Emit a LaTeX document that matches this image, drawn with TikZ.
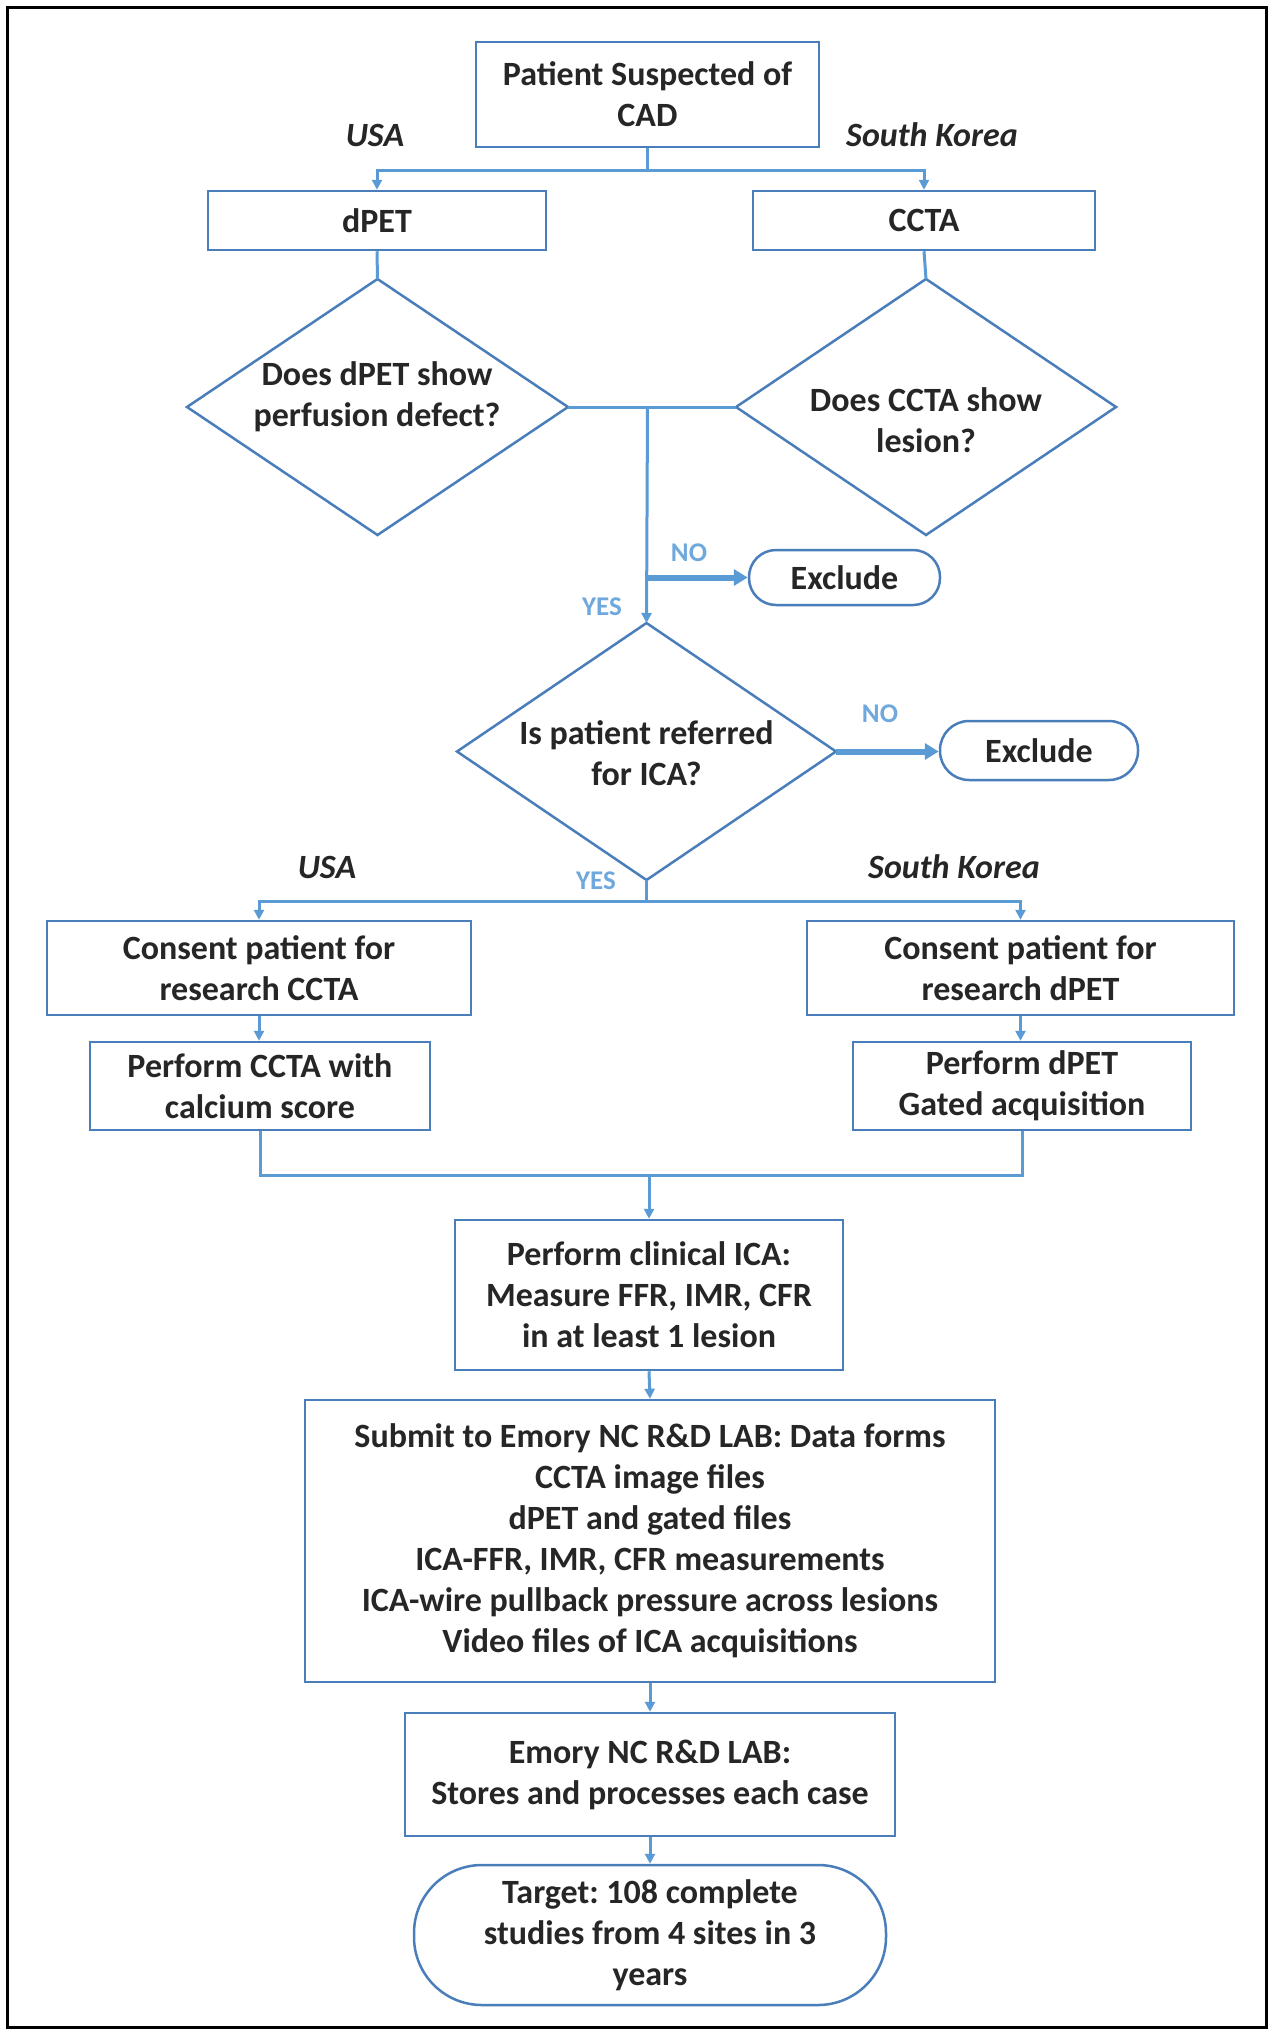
\documentclass[tikz,border=0pt]{standalone}
\usepackage{fontspec}
\setmainfont{Carlito}
\frenchspacing
\usetikzlibrary{shapes.geometric,arrows.meta,calc}
\definecolor{boxblue}{HTML}{4A7EBB}
\definecolor{linkblue}{HTML}{5B9BD5}
\definecolor{lblblue}{HTML}{6FA8DC}
\begin{document}
\begin{tikzpicture}[x=0.5pt,y=-0.5pt,
  txt/.style={font=\fontsize{17}{20.5}\selectfont\bfseries, text=black!85, align=center},
  box/.style={txt, draw=boxblue, line width=1.25pt, rectangle, inner sep=0pt},
  sz/.style 2 args={minimum width=#1*0.5pt, minimum height=#2*0.5pt},
  pill/.style={box, rounded corners=#1},
  dia/.style={draw=boxblue, line width=1.25pt, diamond, inner sep=0pt, outer sep=0pt},
  conn/.style={draw=linkblue, line width=1.5pt},
  arr/.style={conn, -{Triangle[length=5pt,width=5pt]}},
  noarr/.style={draw=linkblue, line width=3pt, -{Triangle[length=7pt,width=8pt]}},
  country/.style={font=\fontsize{17}{20}\selectfont\bfseries\itshape, text=black!85},
  yn/.style={font=\fontsize{13.5}{15}\selectfont\bfseries, text=lblblue}
]
\useasboundingbox (0,0) rectangle (1273,2034);
\fill[white] (0,0) rectangle (1273,2034);
\draw[line width=1.5pt, black] (7,7) rectangle (1266,2027);

% nodes
\node[box, sz={343}{105}] (top) at (647.5,94.5) {Patient Suspected of\\CAD};
\node[box, sz={338}{59}] (dpet) at (377,220.5) {dPET};
\node[box, sz={342}{59}] (ccta) at (924,220.5) {CCTA};
\node[dia, sz={381}{256}] (d1) at (377.5,407) {};
\node[txt] (d1t) at (377,397) {Does dPET show\\perfusion defect?};
\node[dia, sz={380}{256}] (d2) at (926,407) {};
\node[txt] (d2t) at (926,420) {Does CCTA show\\lesion?};
\node[pill=13.5pt, sz={191}{55}] (ex1) at (844.5,577.5) {Exclude};
\node[dia, sz={379}{257}] (d3) at (646.5,751.5) {};
\node[txt] (d3t) at (646.5,753) {Is patient referred\\for ICA?};
\node[pill=14.5pt, sz={198}{59}] (ex2) at (1039,750.5) {Exclude};
\node[box, sz={424}{94}] (c1) at (259,968) {Consent patient for\\research CCTA};
\node[box, sz={427}{94}] (c2) at (1020.5,968) {Consent patient for\\research dPET};
\node[box, sz={340}{88}] (p1) at (260,1086) {Perform CCTA with\\calcium score};
\node[box, sz={338}{88}] (p2) at (1022,1086) {Perform dPET\\Gated acquisition};
\node[box, sz={388}{150}] (ica) at (649,1295) {Perform clinical ICA:\\Measure FFR, IMR, CFR\\in at least 1 lesion};
\node[box, sz={690}{282}] (sub) at (650,1541) {Submit to Emory NC R\&D LAB: Data forms\\CCTA image files\\dPET and gated files\\ICA-FFR, IMR, CFR measurements\\ICA-wire pullback pressure across lesions\\Video files of ICA acquisitions};
\node[box, sz={490}{123}] (emory) at (650,1774.5) {Emory NC R\&D LAB:\\Stores and processes each case};
\node[pill=34pt, sz={472}{140}] (target) at (650,1935) {Target: 108 complete\\studies from 4 sites in 3\\years};

% labels
\node[country] (usa1) at (375,135) {USA};
\node[country] (sk1) at (932,135) {South Korea};
\node[country] (usa2) at (327,867) {USA};
\node[country] (sk2) at (954,867) {South Korea};
\node[yn] (no1) at (689,553) {NO};
\node[yn] (yes1) at (602,607) {YES};
\node[yn] (no2) at (880,714) {NO};
\node[yn] (yes2) at (596,881) {YES};

% connectors
\draw[conn] (top.south) -- ++(0,22) coordinate (s1);
\draw[arr] (s1) -| (dpet.north);
\draw[arr] (s1) -| (ccta.north);
\draw[conn] (dpet.south) -- (d1.north);
\draw[conn] (ccta.south) -- (d2.north);
\draw[conn] (d1.east) -- (d2.west);
\coordinate (j) at (top.south |- d1.east);
\draw[arr] (j) -- (d3.north);
\draw[noarr] (top.south |- ex1.west) -- (ex1.west);
\draw[noarr] (d3.east) -- (d3.east -| ex2.west);
\draw[conn] (d3.south) -- ++(0,21) coordinate (s2);
\draw[arr] (s2) -| (c1.north);
\draw[arr] (s2) -| (c2.north);
\draw[arr] (c1.south) -- (c1.south |- p1.north);
\draw[arr] (c2.south) -- (c2.south |- p2.north);
\draw[conn] (p1.south) -- ++(0,44) coordinate (m1) -- (m1 -| p2.south) -- (p2.south);
\draw[arr] (m1 -| ica.north) -- (ica.north);
\draw[arr] (ica.south) -- (sub.north);
\draw[arr] (sub.south) -- (emory.north);
\draw[arr] (emory.south) -- (target.north);
\end{tikzpicture}
\end{document}
